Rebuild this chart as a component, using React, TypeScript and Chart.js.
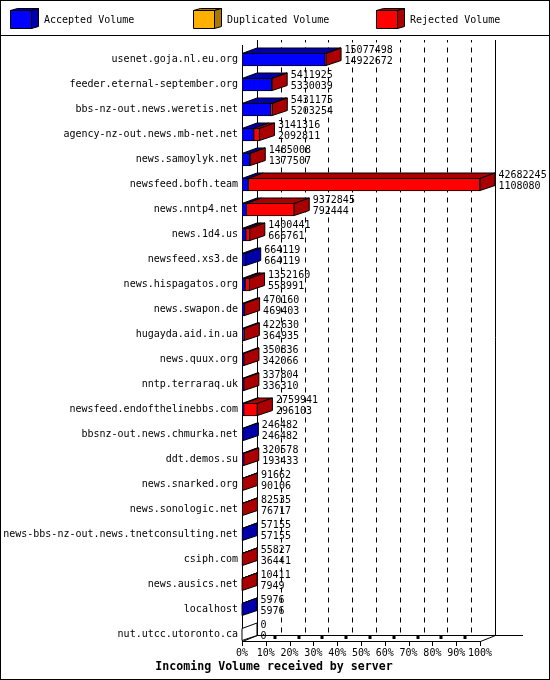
import { useEffect, useRef } from 'react';
import { Chart, ChartConfiguration, Plugin, registerables } from 'chart.js';

Chart.register(...registerables);

const servers = [
  'usenet.goja.nl.eu.org',
  'feeder.eternal-september.org',
  'bbs-nz-out.news.weretis.net',
  'agency-nz-out.news.mb-net.net',
  'news.samoylyk.net',
  'newsfeed.bofh.team',
  'news.nntp4.net',
  'news.1d4.us',
  'newsfeed.xs3.de',
  'news.hispagatos.org',
  'news.swapon.de',
  'hugayda.aid.in.ua',
  'news.quux.org',
  'nntp.terraraq.uk',
  'newsfeed.endofthelinebbs.com',
  'bbsnz-out.news.chmurka.net',
  'ddt.demos.su',
  'news.snarked.org',
  'news.sonologic.net',
  'news-bbs-nz-out.news.tnetconsulting.net',
  'csiph.com',
  'news.ausics.net',
  'localhost',
  'nut.utcc.utoronto.ca',
];

const totalVolume = [
  15077498, 5411925, 5431175, 3141316, 1485008, 42682245, 9372845, 1400441, 664119, 1352160, 470160, 422630,
  350836, 337804, 2759941, 246482, 320578, 91662, 82535, 57155, 55827, 10411, 5976, 0,
];
const acceptedVolume = [
  14922672, 5330039, 5203254, 2092811, 1377507, 1108080, 792444, 666761, 664119, 558991, 469403, 364935,
  342066, 336310, 296103, 246482, 193433, 90106, 76717, 57155, 36441, 7949, 5976, 0,
];
const duplicatedVolume = [0, 0, 0, 0, 0, 0, 0, 0, 0, 0, 0, 0, 0, 0, 0, 0, 0, 0, 0, 0, 0, 0, 0, 0];
const rejectedVolume = [
  154826, 81886, 227921, 1048505, 107501, 41574165, 8580401, 733680, 0, 793169, 757, 57695,
  8770, 1494, 2463838, 0, 127145, 1556, 5818, 0, 19386, 2462, 0, 0,
];

const chartTitle = 'Incoming Volume received by server';
const maxVolume = 42682245;
const depthX = 15;
const depthY = 5;
const font = '10px "DejaVu Sans Mono"';

// front colour -> darker colour of the top and side faces
const darker: Record<string, string> = {
  '#0000ff': '#0000aa',
  '#ffb000': '#aa7800',
  '#ff0000': '#aa0000',
};

function poly(ctx: CanvasRenderingContext2D, pts: number[][], fill: string) {
  ctx.beginPath();
  pts.forEach((p, i) => (i ? ctx.lineTo(p[0], p[1]) : ctx.moveTo(p[0], p[1])));
  ctx.closePath();
  ctx.fillStyle = fill;
  ctx.fill();
  ctx.stroke();
}

function line(ctx: CanvasRenderingContext2D, x1: number, y1: number, x2: number, y2: number) {
  ctx.beginPath();
  ctx.moveTo(x1, y1);
  ctx.lineTo(x2, y2);
  ctx.stroke();
}

// frame, legend and the walls behind the bars
const wallsPlugin: Plugin<'bar'> = {
  id: 'walls',
  beforeDatasetsDraw(chart) {
    const { ctx, scales } = chart;
    const x = scales.x;
    const front = scales.y.bottom - 6;
    const back = front - depthY - 1;
    const top = 40;
    ctx.save();
    ctx.strokeStyle = '#000';
    ctx.lineWidth = 1;
    ctx.strokeRect(0.5, 0.5, 549, 679);
    line(ctx, 0, 35.5, 550, 35.5);

    // gridlines on the back wall
    ctx.setLineDash([5, 5]);
    ctx.lineDashOffset = 2.5;
    x.ticks.slice(1, -1).forEach((t) => {
      const px = Math.round(x.getPixelForValue(t.value) + depthX) + 0.5;
      line(ctx, px, top, px, back);
    });
    ctx.setLineDash([]);

    line(ctx, x.left + 0.5, top + depthY, x.left + 0.5, front + 0.5);
    line(ctx, x.left + depthX + 0.5, top, x.left + depthX + 0.5, back + 0.5);
    line(ctx, x.right + depthX + 0.5, top, x.right + depthX + 0.5, back + 0.5);

    // floor
    line(ctx, x.left + depthX, back + 0.5, 523, back + 0.5);
    line(ctx, x.left, front + 0.5, x.right, front + 0.5);
    line(ctx, x.left + 0.5, front + 0.5, x.left + depthX + 0.5, back + 0.5);
    line(ctx, x.right + 0.5, front + 0.5, x.right + depthX + 0.5, back + 0.5);
    x.ticks.forEach((t, i) => {
      const px = Math.round(x.getPixelForValue(t.value)) + 0.5;
      line(ctx, px, front, px, front + 5);
      if (i > 0 && i < x.ticks.length - 1) {
        ctx.fillStyle = '#000';
        ctx.fillRect(px + 7, front - 5, 3, 3);
      }
    });

    // legend
    ctx.font = font;
    ctx.textBaseline = 'middle';
    const legendX = [10, 193, 376];
    chart.data.datasets.forEach((ds, i) => {
      const c = ds.backgroundColor as string;
      const lx = legendX[i] + 0.5;
      poly(ctx, [[lx, 10.5], [lx + 7, 8.5], [lx + 28, 8.5], [lx + 21, 10.5]], darker[c]);
      poly(ctx, [[lx + 21, 10.5], [lx + 28, 8.5], [lx + 28, 26.5], [lx + 21, 28.5]], darker[c]);
      poly(ctx, [[lx, 10.5], [lx + 21, 10.5], [lx + 21, 28.5], [lx, 28.5]], c);
      ctx.fillStyle = '#000';
      ctx.textAlign = 'left';
      ctx.fillText(ds.label as string, legendX[i] + 34, 20);
    });

    // title
    ctx.font = 'bold 11.6px "DejaVu Sans Mono"';
    ctx.textAlign = 'center';
    ctx.fillStyle = '#000';
    ctx.fillText(chartTitle, 274, 667);
    ctx.restore();
  },
  // top and side faces plus the two numbers of each row
  afterDatasetsDraw(chart) {
    const { ctx, scales } = chart;
    ctx.save();
    ctx.strokeStyle = '#000';
    ctx.lineWidth = 1;
    servers.forEach((_, row) => {
      let right = scales.x.left;
      let sideColor = '#fff';
      const rowY = scales.y.getPixelForValue(row);
      const yTop = rowY - 6.5;
      const yBottom = rowY + 6.5;
      chart.data.datasets.forEach((ds, i) => {
        if (!(ds.data[row] as number)) return;
        const bar = chart.getDatasetMeta(i).data[row] as any;
        const p = bar.getProps(['x', 'base'], true);
        const c = darker[ds.backgroundColor as string];
        poly(ctx, [[p.base, yTop + 0.5], [p.x, yTop + 0.5], [p.x + depthX, yTop - depthY], [p.base + depthX, yTop - depthY]], c);
        right = p.x;
        sideColor = c;
      });
      poly(ctx, [[right, yTop + 0.5], [right + depthX, yTop - depthY], [right + depthX, yBottom - depthY - 0.5], [right, yBottom - 0.5]], sideColor);
      ctx.font = font;
      ctx.fillStyle = '#000';
      ctx.textAlign = 'left';
      ctx.textBaseline = 'middle';
      ctx.fillText(String(totalVolume[row]), right + depthX + 3.5, rowY - 9.5);
      ctx.fillText(String(acceptedVolume[row]), right + depthX + 3.5, rowY + 1.5);
    });
    ctx.restore();
  },
};

export default function App() {
  const canvasRef = useRef<HTMLCanvasElement>(null);

  useEffect(() => {
    if (!canvasRef.current) return;
    document.body.style.margin = '0';

    const common = { borderColor: '#000', borderWidth: 1, borderSkipped: false, barThickness: 13, stack: 'volume' };
    const config: ChartConfiguration<'bar'> = {
      type: 'bar',
      data: {
        labels: servers,
        datasets: [
          { label: 'Accepted Volume', data: acceptedVolume, backgroundColor: '#0000ff', ...common },
          { label: 'Duplicated Volume', data: duplicatedVolume, backgroundColor: '#ffb000', ...common },
          { label: 'Rejected Volume', data: rejectedVolume, backgroundColor: '#ff0000', ...common },
        ],
      } as any,
      options: {
        indexAxis: 'y',
        responsive: false,
        animation: false,
        layout: { padding: { top: 47, right: 70, left: 0, bottom: 0 } },
        plugins: {
          legend: { display: false },
          tooltip: { enabled: false },
        },
        scales: {
          x: {
            type: 'linear',
            stacked: true,
            min: 0,
            max: maxVolume,
            grid: { display: false, drawTicks: false, tickLength: 0 },
            border: { display: false },
            afterFit: (scale: any) => {
              scale.height = 33;
            },
            ticks: {
              stepSize: maxVolume / 10,
              autoSkip: false,
              maxRotation: 0,
              padding: 0,
              color: '#000',
              font: { family: 'DejaVu Sans Mono', size: 10 },
              callback: (value: any) => Math.round((Number(value) / maxVolume) * 100) + '%',
            },
          },
          y: {
            type: 'category',
            stacked: true,
            grid: { display: false, drawTicks: false, tickLength: 0 },
            border: { display: false },
            afterFit: (scale: any) => {
              scale.width = 242;
            },
            ticks: {
              autoSkip: false,
              padding: 4,
              color: '#000',
              font: { family: 'DejaVu Sans Mono', size: 10 },
            },
          },
        },
      },
      plugins: [wallsPlugin],
    };

    const chart = new Chart(canvasRef.current, config);
    return () => {
      chart.destroy();
    };
  }, []);

  return <canvas ref={canvasRef} width={550} height={680} style={{ display: 'block' }}></canvas>;
}
